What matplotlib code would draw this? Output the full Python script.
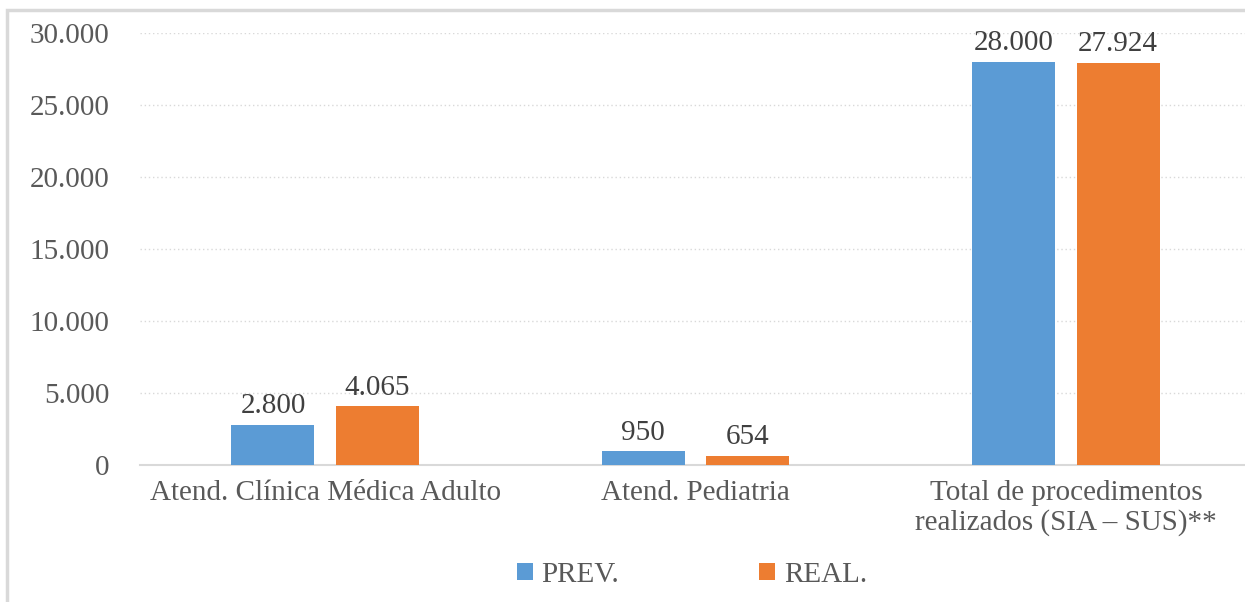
import matplotlib
matplotlib.use("Agg")
import matplotlib.pyplot as plt
from matplotlib.patches import Rectangle
from matplotlib.ticker import FuncFormatter, MultipleLocator
import numpy as np

categories = ["Atend. Clínica Médica Adulto", "Atend. Pediatria",
              "Total de procedimentos\nrealizados (SIA – SUS)**"]
prev = [2800, 950, 28000]
real = [4065, 654, 27924]
series_names = ["PREV.", "REAL."]
colors = ["#5B9BD5", "#ED7D31"]

plt.rcParams['font.family'] = ['Liberation Serif', 'DejaVu Serif']
text_color = "#595959"
fs = 21

fig = plt.figure(figsize=(12.45, 6.02), dpi=100)
ax = fig.add_axes([140/1245, 1-465/602, 1111/1245, (465-33)/602])

x = np.arange(len(categories))
w = 0.224
off = 0.141
b1 = ax.bar(x - off, prev, w, color=colors[0], label=series_names[0], zorder=3)
b2 = ax.bar(x + off, real, w, color=colors[1], label=series_names[1], zorder=3)

def fmt(v):
    return f"{int(v):,}".replace(",", ".")

for bars in (b1, b2):
    for r in bars:
        ax.annotate(fmt(r.get_height()), (r.get_x() + r.get_width()/2, r.get_height()),
                    xytext=(0, 4), textcoords="offset points", ha="center", va="bottom",
                    fontsize=fs, color="#404040")

ax.set_xlim(-0.5, 2.5)
ax.set_ylim(0, 30000)
ax.yaxis.set_major_locator(MultipleLocator(5000))
ax.yaxis.set_major_formatter(FuncFormatter(lambda v, p: fmt(v)))
ax.grid(axis="y", color="#D9D9D9", linestyle=(0, (1, 2)), linewidth=1, zorder=0)
for s in ["top", "right", "left"]:
    ax.spines[s].set_visible(False)
ax.spines["bottom"].set_color("#D9D9D9")
ax.spines["bottom"].set_linewidth(1.5)
ax.tick_params(axis="both", length=0, labelsize=fs, colors=text_color)
ax.tick_params(axis="y", pad=22)
ax.tick_params(axis="x", pad=11)
ax.set_xticks(x)
ax.set_xticklabels(categories, linespacing=1.15)

leg = fig.legend(handles=[b1, b2], labels=series_names, loc="center",
                 bbox_to_anchor=(692/1245, 1-575/602), ncol=2, frameon=False,
                 fontsize=fs, handlelength=0.55, handleheight=0.55, handletextpad=0.3,
                 columnspacing=4.8, labelcolor=text_color)

fig.patches.append(Rectangle((7/1245, -0.1), 1.2, 1 - 10/602 + 0.1, transform=fig.transFigure,
                             fill=False, edgecolor="#D9D9D9", linewidth=2.5, zorder=-1))

fig.savefig("out.png", dpi=100)
